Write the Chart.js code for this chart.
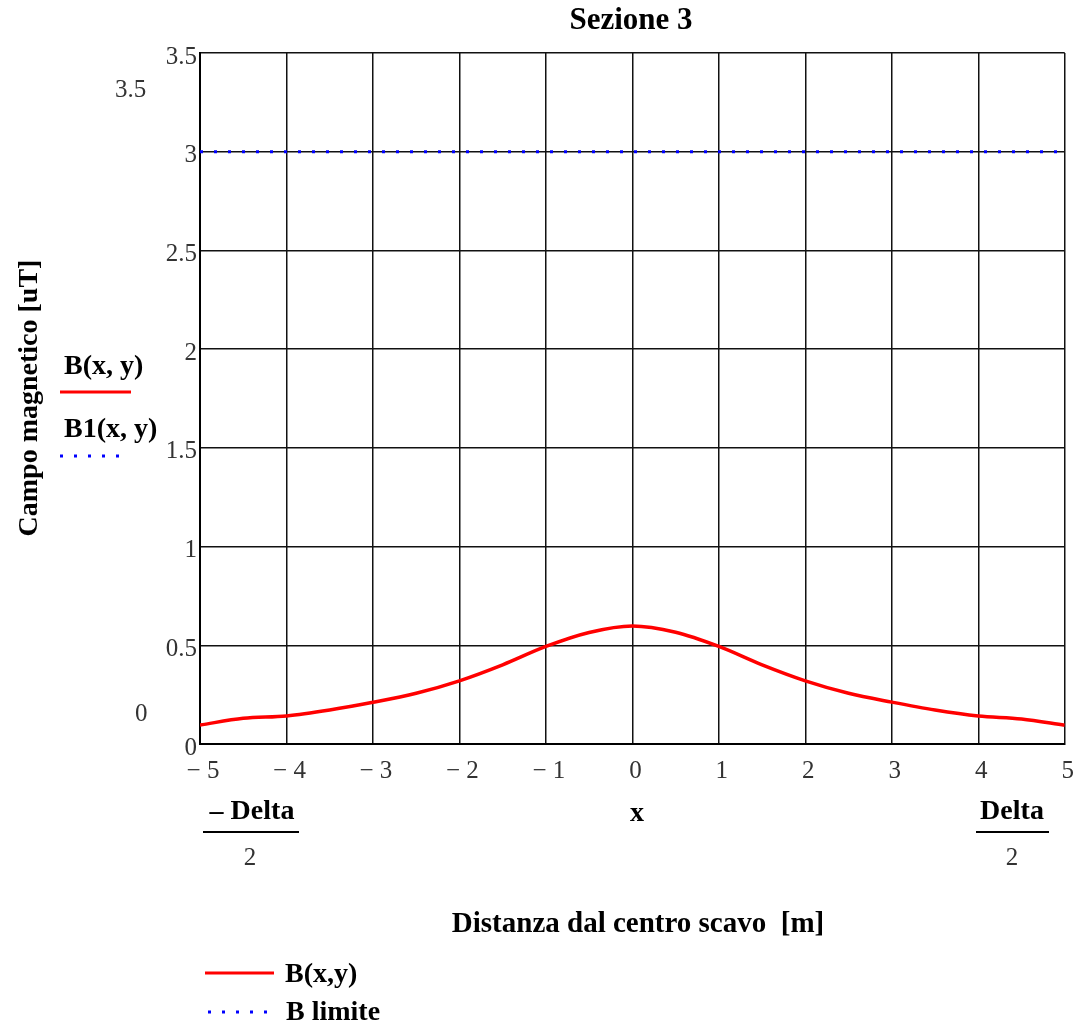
<!DOCTYPE html>
<html>
<head>
<meta charset="utf-8">
<script src="https://cdn.jsdelivr.net/npm/chart.js@4/dist/chart.umd.min.js"></script>
<style>
  html, body { margin: 0; padding: 0; background: #fff; }
  canvas { display: block; }
</style>
</head>
<body>
<canvas id="c" width="1083" height="1025"></canvas>
<script>
// ---- data ----
const xValues = [-5, -4.5, -4, -3.5, -3, -2.5, -2, -1.5, -1, -0.5, 0, 0.5, 1, 1.5, 2, 2.5, 3, 3.5, 4, 4.5, 5];
const bValues = [0.096, 0.130, 0.142, 0.172, 0.211, 0.257, 0.320, 0.401, 0.494, 0.565, 0.598, 0.566, 0.494, 0.401, 0.320, 0.257, 0.212, 0.172, 0.142, 0.127, 0.095];
const limitX = [-5, 5];
const limitValues = [3, 3];
const seriesNames = ['B(x,y)', 'B limite'];
const chartTitle = 'Sezione 3';
const xAxisTitle = 'Distanza dal centro scavo  [m]';
const yAxisTitle = 'Campo magnetico [uT]';
const yMin = 0, yMax = 3.5, yStep = 0.5;
const xMin = -5, xMax = 5, xStep = 1;

const serif = '"Liberation Serif", "Times New Roman", serif';

const bPoints = xValues.map((x, i) => ({ x: x, y: bValues[i] }));
const limitPoints = limitX.map((x, i) => ({ x: x, y: limitValues[i] }));

const annotations = {
  id: 'annotations',
  afterDraw(chart) {
    const ctx = chart.ctx;
    ctx.save();
    ctx.fillStyle = '#000';
    ctx.textBaseline = 'middle';

    // Title
    ctx.font = 'bold 31px ' + serif;
    ctx.textAlign = 'center';
    ctx.fillText(chartTitle, 631, 21);

    // Y axis title (rotated)
    ctx.save();
    ctx.translate(30, 398);
    ctx.rotate(-Math.PI / 2);
    ctx.font = 'bold 28px ' + serif;
    ctx.textAlign = 'center';
    ctx.fillText(yAxisTitle, 0, 0);
    ctx.restore();

    // Extra Mathcad limit labels
    ctx.font = '25px ' + serif;
    ctx.fillStyle = '#333';
    ctx.textAlign = 'left';
    ctx.fillText('3.5', 115, 90);
    ctx.fillText('0', 135, 714);

    // Left legend (trace labels)
    ctx.fillStyle = '#000';
    ctx.textAlign = 'left';
    ctx.font = 'bold 28px ' + serif;
    ctx.fillText('B(x, y)', 64, 367);
    ctx.fillText('B1(x, y)', 64, 430);
    ctx.strokeStyle = '#ff0000';
    ctx.lineWidth = 3;
    ctx.beginPath(); ctx.moveTo(60, 392); ctx.lineTo(131, 392); ctx.stroke();
    ctx.strokeStyle = '#0000ff';
    ctx.setLineDash([3, 11]);
    ctx.beginPath(); ctx.moveTo(60, 456); ctx.lineTo(122, 456); ctx.stroke();
    ctx.setLineDash([]);

    // X axis fraction labels
    ctx.textAlign = 'center';
    ctx.font = 'bold 28px ' + serif;
    ctx.fillText('\u2013 Delta', 252, 812);
    ctx.fillText('Delta', 1012, 812);
    ctx.fillText('x', 637, 814);
    ctx.strokeStyle = '#000';
    ctx.lineWidth = 2;
    ctx.beginPath(); ctx.moveTo(203, 832); ctx.lineTo(299, 832); ctx.stroke();
    ctx.beginPath(); ctx.moveTo(976, 832); ctx.lineTo(1049, 832); ctx.stroke();
    ctx.font = '25px ' + serif;
    ctx.fillStyle = '#333';
    ctx.fillText('2', 250, 858);
    ctx.fillText('2', 1012, 858);

    // X axis title
    ctx.fillStyle = '#000';
    ctx.font = 'bold 29px ' + serif;
    ctx.fillText(xAxisTitle, 638, 925);

    // Bottom legend
    ctx.textAlign = 'left';
    ctx.strokeStyle = '#ff0000';
    ctx.lineWidth = 3;
    ctx.beginPath(); ctx.moveTo(205, 973); ctx.lineTo(274, 973); ctx.stroke();
    ctx.strokeStyle = '#0000ff';
    ctx.setLineDash([3, 11]);
    ctx.beginPath(); ctx.moveTo(208, 1012); ctx.lineTo(268, 1012); ctx.stroke();
    ctx.setLineDash([]);
    ctx.fillStyle = '#000';
    ctx.font = 'bold 28px ' + serif;
    ctx.fillText(seriesNames[0], 285, 975);
    ctx.fillText(seriesNames[1], 286, 1013);

    ctx.restore();
  }
};

new Chart(document.getElementById('c'), {
  type: 'line',
  data: {
    datasets: [
      {
        label: seriesNames[0],
        data: bPoints,
        borderColor: '#ff0000',
        borderWidth: 3.5,
        pointRadius: 0,
        cubicInterpolationMode: 'monotone',
        fill: false
      },
      {
        label: seriesNames[1],
        data: limitPoints,
        borderColor: '#0000ff',
        borderWidth: 3,
        borderDash: [3, 11],
        pointRadius: 0,
        fill: false
      }
    ]
  },
  options: {
    responsive: false,
    animation: false,
    layout: { padding: { top: 53, right: 16, left: 0, bottom: 0 } },
    plugins: {
      legend: { display: false },
      title: { display: false },
      tooltip: { enabled: false }
    },
    scales: {
      x: {
        type: 'linear',
        min: xMin,
        max: xMax,
        afterFit(scale) { scale.height = 281; },
        ticks: {
          stepSize: xStep,
          color: '#333',
          font: { family: serif, size: 25 },
          padding: 12,
          labelOffset: 3,
          maxRotation: 0,
          callback: v => (v < 0 ? '\u2212 ' + Math.abs(v) : String(v))
        },
        grid: { color: '#111', lineWidth: 1.5, drawTicks: false },
        border: { color: '#000', width: 2 }
      },
      y: {
        type: 'linear',
        min: yMin,
        max: yMax,
        afterFit(scale) { scale.width = 200; },
        ticks: {
          stepSize: yStep,
          color: '#333',
          font: { family: serif, size: 25 },
          padding: 3,
          labelOffset: 4,
          callback: v => String(v)
        },
        grid: { color: '#111', lineWidth: 1.5, drawTicks: false },
        border: { color: '#000', width: 2 }
      }
    }
  },
  plugins: [annotations]
});
</script>
</body>
</html>
